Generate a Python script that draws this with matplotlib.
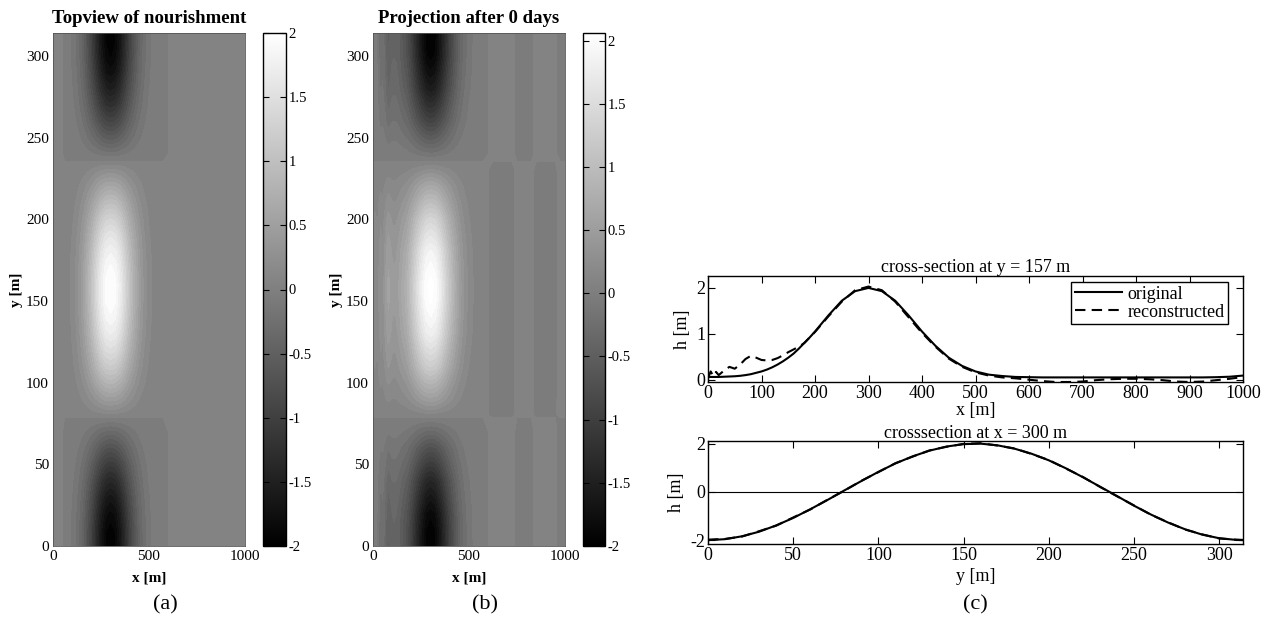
import numpy as np
import matplotlib
matplotlib.use("Agg")
import matplotlib.pyplot as plt
from matplotlib.colors import Normalize
from matplotlib.cm import ScalarMappable
from matplotlib.ticker import FuncFormatter

plt.rcParams['font.family'] = ['Liberation Serif', 'DejaVu Serif']
plt.rcParams['axes.unicode_minus'] = False

# cross-shore grid [m] (finer near the shoreline)
x_grid = [0, 5, 10, 15, 20, 30, 40, 50, 60, 70, 80, 90, 100, 110, 120, 130, 140, 150,
          160, 170, 180, 190, 200, 225, 250, 275, 300, 325, 350, 375, 400, 425, 450, 475,
          500, 525, 550, 575, 600, 625, 650, 675, 700, 725, 750, 775, 800, 825, 850, 875,
          900, 925, 950, 975, 1000]
# alongshore grid [m]
y_grid = [0, 10, 20, 30, 40, 50, 60, 70, 80, 90, 100, 110, 120, 130, 140, 150, 160, 170,
          180, 190, 200, 210, 220, 230, 240, 250, 260, 270, 280, 290, 300, 310, 314]

# cross-section at y = 157 m
h_x_orig = [0.06, 0.06, 0.06, 0.06, 0.06, 0.065, 0.07, 0.075, 0.085, 0.10, 0.12, 0.15, 0.18,
            0.22, 0.27, 0.33, 0.40, 0.48, 0.57, 0.68, 0.80, 0.92, 1.05, 1.40, 1.72, 1.93, 2.00,
            1.93, 1.72, 1.40, 1.05, 0.74, 0.48, 0.30, 0.18, 0.11, 0.08, 0.06, 0.055, 0.05,
            0.05, 0.05, 0.05, 0.05, 0.05, 0.05, 0.05, 0.05, 0.05, 0.05, 0.05, 0.05, 0.055,
            0.065, 0.09]
h_x_rec = [0.03, 0.18, 0.08, 0.17, 0.10, 0.20, 0.28, 0.24, 0.33, 0.45, 0.52, 0.48, 0.43,
           0.42, 0.43, 0.47, 0.53, 0.60, 0.66, 0.72, 0.80, 0.92, 1.04, 1.38, 1.70, 1.95, 2.03,
           1.95, 1.70, 1.36, 1.02, 0.72, 0.46, 0.28, 0.16, 0.09, 0.05, 0.03, 0.0, -0.03,
           -0.05, -0.05, -0.04, -0.01, 0.01, 0.02, 0.02, 0.01, -0.01, -0.04, -0.05, -0.04,
           -0.01, 0.02, 0.06]
# nourishment amplitude used in the top view
amp_topview = [0, 0, 0, 0, 0, 0, 0, 0.0, 0.04, 0.05, 0.07, 0.10, 0.13, 0.17, 0.22, 0.28,
               0.35, 0.43, 0.52, 0.63, 0.75, 0.87, 1.00, 1.36, 1.70, 1.93, 2.00, 1.93, 1.70,
               1.36, 1.00, 0.70, 0.44, 0.26, 0.14, 0.07, 0.04, 0.02, 0, 0, 0, 0, 0, 0, 0, 0,
               0, 0, 0, 0, 0, 0, 0, 0, 0]

# cross-section at x = 300 m
h_y_orig = [-2.00, -1.96, -1.84, -1.65, -1.39, -1.08, -0.72, -0.34, 0.06, 0.45, 0.83, 1.18,
            1.47, 1.71, 1.88, 1.98, 2.00, 1.93, 1.79, 1.58, 1.31, 0.98, 0.61, 0.22, -0.17,
            -0.57, -0.94, -1.27, -1.55, -1.77, -1.92, -1.99, -2.00]
h_y_rec = [-1.98, -1.95, -1.85, -1.63, -1.40, -1.06, -0.73, -0.33, 0.05, 0.46, 0.82, 1.19,
           1.46, 1.72, 1.87, 1.99, 2.02, 1.92, 1.80, 1.57, 1.32, 0.97, 0.62, 0.21, -0.18,
           -0.56, -0.95, -1.26, -1.56, -1.76, -1.93, -1.98, -1.99]

cbar_ticks = [-2, -1.5, -1, -0.5, 0, 0.5, 1, 1.5, 2]

W, H = 1269, 623


def pos(l, t, r, b):
    return [l / W, 1 - b / H, (r - l) / W, (b - t) / H]


fig = plt.figure(figsize=(W / 100, H / 100), dpi=100)

X, Y = np.meshgrid(x_grid, y_grid)
field_a = np.outer(h_y_orig, amp_topview) / 2.0
field_b = np.outer(h_y_rec, h_x_rec) / 2.0
levels = np.linspace(-2, 2, 41) - 1e-6

panels = [
    (field_a, 'Topview of nourishment', (53, 33, 245, 546), (263, 33, 286, 546), 2.0),
    (field_b, 'Projection after 0 days', (373, 33, 565, 546), (583, 33, 605, 546), 2.06),
]
for field, title, p_ax, p_cb, vtop in panels:
    ax = fig.add_axes(pos(*p_ax))
    ax.contourf(X, Y, field, levels=levels, cmap='gray', vmin=-2, vmax=2, extend='both')
    ax.set_xlim(0, 1000)
    ax.set_ylim(0, 314)
    ax.set_xticks([0, 500, 1000])
    ax.set_yticks([0, 50, 100, 150, 200, 250, 300])
    ax.tick_params(direction='in', length=0, labelsize=11, pad=3)
    ax.set_title(title, fontsize=13.5, fontweight='bold', pad=7)
    ax.set_xlabel('x [m]', fontsize=11, fontweight='bold', labelpad=6)
    ax.set_ylabel('y [m]', fontsize=11, fontweight='bold', labelpad=2)
    for s in ax.spines.values():
        s.set_linewidth(0.6)
        s.set_color('#555555')

    cax = fig.add_axes(pos(*p_cb))
    sm = ScalarMappable(norm=Normalize(-2, vtop), cmap='gray')
    cb = fig.colorbar(sm, cax=cax)
    cb.set_ticks(cbar_ticks)
    cb.ax.yaxis.set_major_formatter(FuncFormatter(lambda v, p: '%g' % v))
    cb.ax.tick_params(direction='in', left=True, right=True, length=4, width=0.8,
                      labelsize=10.5, pad=2)
    cb.outline.set_linewidth(1.0)

# cross-section along x
ax1 = fig.add_axes(pos(708, 276, 1243, 382))
ax1.plot(x_grid, h_x_orig, '-', color='black', lw=1.5, label='original')
ax1.plot(x_grid, h_x_rec, '--', color='black', lw=1.5, dashes=(5, 3), label='reconstructed')
ax1.set_xlim(0, 1000)
ax1.set_ylim(-0.05, 2.26)
ax1.set_xticks(np.arange(0, 1001, 100))
ax1.set_yticks([0, 1, 2])
ax1.set_title('cross-section at y = 157 m', fontsize=13, pad=3)
ax1.set_xlabel('x [m]', fontsize=13, labelpad=0)
ax1.set_ylabel('h [m]', fontsize=13, labelpad=4)
leg = ax1.legend(loc='upper right', bbox_to_anchor=(1 - 15 / 535, 1 - 6 / 106),
                 fontsize=13, frameon=True, fancybox=False, edgecolor='black',
                 framealpha=1, borderpad=0.2, labelspacing=0.05, handlelength=2.6,
                 handletextpad=0.3, borderaxespad=0)
leg.get_frame().set_linewidth(1.0)

# cross-section along y
ax2 = fig.add_axes(pos(708, 441, 1243, 544))
ax2.axhline(0, color='black', lw=0.8)
ax2.plot(y_grid, h_y_orig, '-', color='black', lw=1.5)
ax2.plot(y_grid, h_y_rec, '--', color='black', lw=1.5, dashes=(5, 3))
ax2.set_xlim(0, 314)
ax2.set_ylim(-2.16, 2.11)
ax2.set_xticks([0, 50, 100, 150, 200, 250, 300])
ax2.set_yticks([-2, 0, 2])
ax2.set_title('crosssection at x = 300 m', fontsize=13, pad=2.5)
ax2.set_xlabel('y [m]', fontsize=13, labelpad=3)
ax2.set_ylabel('h [m]', fontsize=13, labelpad=4)

for ax in (ax1, ax2):
    ax.tick_params(direction='in', top=True, right=True, length=5, labelsize=13, pad=2)
    for s in ax.spines.values():
        s.set_linewidth(1.0)

fig.text(165 / W, 1 - 605 / H, '(a)', fontsize=16, ha='center', va='center')
fig.text(485 / W, 1 - 605 / H, '(b)', fontsize=16, ha='center', va='center')
fig.text(975 / W, 1 - 605 / H, '(c)', fontsize=16, ha='center', va='center')

fig.savefig('out.png', dpi=100)
